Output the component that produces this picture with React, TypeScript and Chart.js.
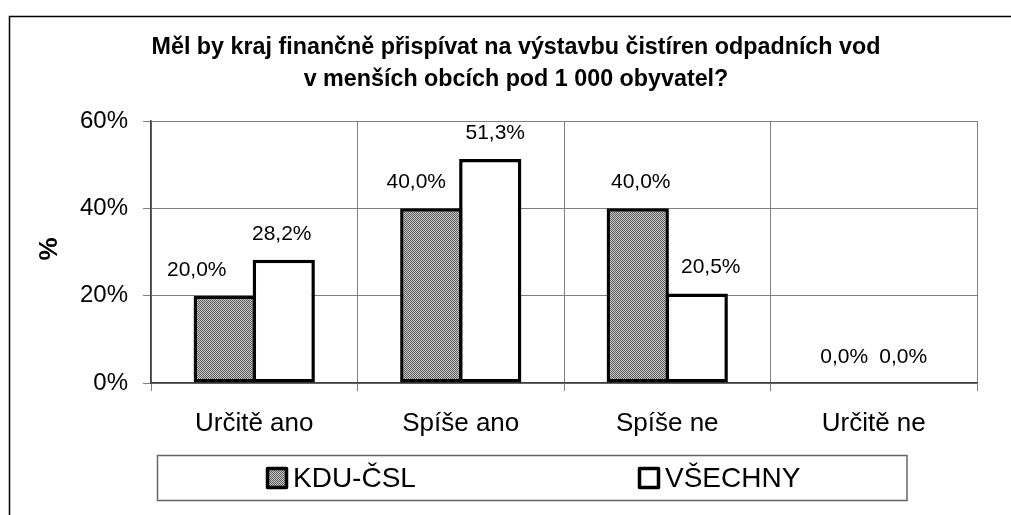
import React, { useEffect, useRef } from 'react';
import { Chart, registerables } from 'chart.js';

Chart.register(...registerables);

const TITLE_LINES = [
  'Měl by kraj finančně přispívat na výstavbu čistíren odpadních vod',
  'v menších obcích pod 1 000 obyvatel?',
];
const CATEGORIES = ['Určitě ano', 'Spíše ano', 'Spíše ne', 'Určitě ne'];
const SERIES_NAMES = ['KDU-ČSL', 'VŠECHNY'];
const KDU_VALUES = [0.2, 0.4, 0.4, 0.0];
const VSECHNY_VALUES = [0.282, 0.513, 0.205, 0.0];
const Y_TICK_LABELS = ['0%', '20%', '40%', '60%'];
const Y_TITLE = '%';

const FONT = '"Liberation Sans", Arial, sans-serif';

// horizontal nudges of the value labels (px), per series / category, as placed in the original
const LABEL_NUDGE = [
  [-28, -15, 3, 0],
  [-2, 5, 14, 0],
];

function makePattern(): CanvasPattern | string {
  const c = document.createElement('canvas');
  c.width = 2;
  c.height = 2;
  const x = c.getContext('2d');
  if (!x) return '#999';
  x.fillStyle = '#c4c4c4';
  x.fillRect(0, 0, 2, 2);
  x.fillStyle = '#606060';
  x.fillRect(0, 0, 1, 1);
  x.fillRect(1, 1, 1, 1);
  const p = x.createPattern(c, 'repeat');
  return p || '#999';
}

const fmt = (v: number) => (v * 100).toFixed(1).replace('.', ',') + '%';

export default function App() {
  const ref = useRef<HTMLCanvasElement | null>(null);

  useEffect(() => {
    if (!ref.current) return;
    const pattern = makePattern();

    const decor = {
      id: 'decor',
      beforeDraw(chart: any) {
        const ctx = chart.ctx;
        ctx.save();
        ctx.fillStyle = '#fff';
        ctx.fillRect(0, 0, chart.width, chart.height);
        ctx.restore();
      },
      afterDraw(chart: any) {
        const ctx = chart.ctx;
        ctx.save();
        // outer frame
        ctx.strokeStyle = '#000';
        ctx.lineWidth = 1.5;
        ctx.strokeRect(9.5, 16.5, 1100, 600);

        // title
        ctx.fillStyle = '#000';
        ctx.textAlign = 'center';
        ctx.textBaseline = 'middle';
        ctx.font = `bold 23.3px ${FONT}`;
        ctx.fillText(TITLE_LINES[0], 516, 48);
        ctx.fillText(TITLE_LINES[1], 516, 80);

        // y title
        ctx.save();
        ctx.translate(50, 249);
        ctx.rotate(-Math.PI / 2);
        ctx.font = `bold 26px ${FONT}`;
        ctx.fillText(Y_TITLE, 0, 0);
        ctx.restore();

        // data labels
        ctx.font = `21px ${FONT}`;
        ctx.textBaseline = 'alphabetic';
        chart.data.datasets.forEach((ds: any, di: number) => {
          const meta = chart.getDatasetMeta(di);
          meta.data.forEach((el: any, i: number) => {
            const v = ds.data[i];
            const nudge = (LABEL_NUDGE[di] && LABEL_NUDGE[di][i]) || 0;
            ctx.fillText(fmt(v), el.x + nudge, el.y - 20);
          });
        });

        // legend
        ctx.strokeStyle = '#666';
        ctx.lineWidth = 1.5;
        ctx.strokeRect(157.5, 455.5, 749.5, 45);
        const items = [
          { x: 266, fill: pattern as any, label: SERIES_NAMES[0] },
          { x: 638, fill: '#fff', label: SERIES_NAMES[1] },
        ];
        items.forEach((it) => {
          ctx.fillStyle = it.fill;
          ctx.beginPath();
          ctx.rect(it.x + 1.5, 468.5, 19, 19);
          ctx.fill();
          ctx.strokeStyle = '#000';
          ctx.lineWidth = 3.5;
          ctx.lineJoin = 'round';
          ctx.stroke();
          ctx.fillStyle = '#000';
          ctx.font = `28px ${FONT}`;
          ctx.textAlign = 'left';
          ctx.textBaseline = 'middle';
          ctx.fillText(it.label, it.x + 27, 479);
        });
        ctx.restore();
      },
    };

    const chart = new Chart(ref.current, {
      type: 'bar',
      data: {
        labels: CATEGORIES,
        datasets: [
          {
            label: SERIES_NAMES[0],
            data: KDU_VALUES,
            backgroundColor: pattern as any,
            borderColor: '#000',
            borderWidth: 3.5,
            borderSkipped: false,
          },
          {
            label: SERIES_NAMES[1],
            data: VSECHNY_VALUES,
            backgroundColor: '#fff',
            borderColor: '#000',
            borderWidth: 3.5,
            borderSkipped: false,
          },
        ],
      },
      options: {
        responsive: false,
        animation: false,
        layout: { padding: { left: 0, right: 34, top: 121, bottom: 0 } },
        datasets: { bar: { categoryPercentage: 0.5714, barPercentage: 1.055 } },
        plugins: {
          legend: { display: false },
          title: { display: false },
          tooltip: { enabled: false },
        },
        scales: {
          x: {
            grid: { offset: true, color: '#808080', lineWidth: 1, tickLength: 8 },
            border: { color: '#404040', width: 1.5 },
            ticks: { color: '#000', font: { family: FONT, size: 26 }, padding: 17 },
            afterFit: (s: any) => {
              s.height = 132;
            },
          },
          y: {
            min: 0,
            max: 0.6,
            grid: { color: '#808080', lineWidth: 1, tickLength: 8 },
            border: { color: '#404040', width: 1.5 },
            ticks: {
              stepSize: 0.2,
              color: '#000',
              font: { family: FONT, size: 24 },
              padding: 15,
              callback: (_v: any, i: number) => Y_TICK_LABELS[i],
            },
            afterFit: (s: any) => {
              s.width = 151;
            },
          },
        },
      },
      plugins: [decor],
    });
    return () => chart.destroy();
  }, []);

  return (
    <div style={{ position: 'absolute', left: 0, top: 0, width: 1011, height: 515 }}>
      <canvas ref={ref} width={1011} height={515} />
    </div>
  );
}
